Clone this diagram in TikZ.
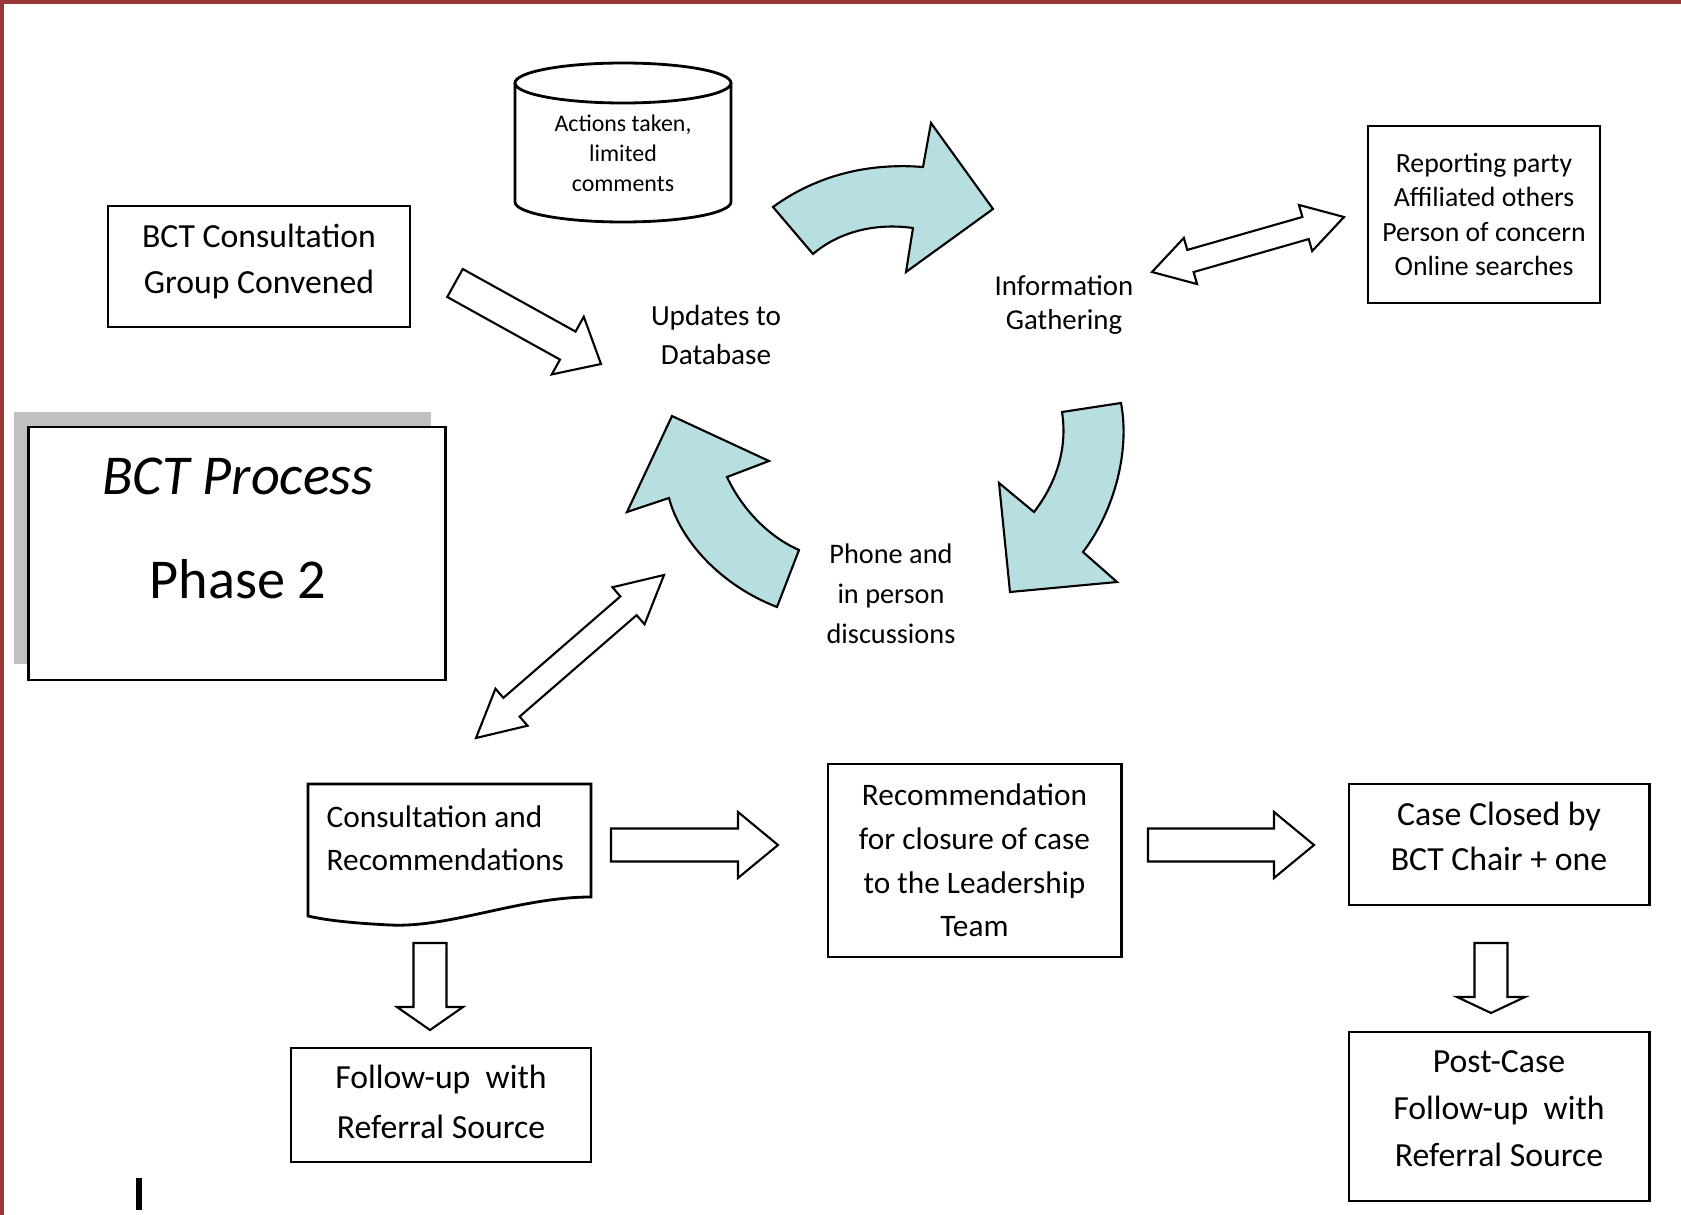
\documentclass[tikz,border=0pt]{standalone}
\usepackage{fontspec}
\setmainfont{Carlito}
\usetikzlibrary{calc}
\definecolor{frame}{RGB}{155,55,55}
\definecolor{cyclefill}{RGB}{183,222,225}
\definecolor{shadowgray}{RGB}{192,192,192}
\begin{document}
\begin{tikzpicture}[x=0.01cm,y=-0.01cm,
  box/.style={draw,line width=0.8pt,align=center,inner sep=0pt,fill=white},
  txt/.style={align=center,inner sep=0pt},
  cyc/.style={draw,line width=0.6pt,fill=cyclefill,line join=miter},
  arrshaft/.store in=\shaftw,arrhead/.store in=\headw,arrlen/.store in=\headl,
  arrshaft=16.5,arrhead=33,arrlen=40,
  blockarrow/.style={draw,line width=0.6pt,fill=white,line join=miter,
    to path={
      ($(\tikztostart)!\shaftw*0.01cm!90:(\tikztotarget)$)
      -- ($($(\tikztotarget)!\headl*0.01cm!(\tikztostart)$)!\shaftw*0.01cm!90:(\tikztotarget)$)
      -- ($($(\tikztotarget)!\headl*0.01cm!(\tikztostart)$)!\headw*0.01cm!90:(\tikztotarget)$)
      -- (\tikztotarget)
      -- ($($(\tikztotarget)!\headl*0.01cm!(\tikztostart)$)!\headw*0.01cm!-90:(\tikztotarget)$)
      -- ($($(\tikztotarget)!\headl*0.01cm!(\tikztostart)$)!\shaftw*0.01cm!-90:(\tikztotarget)$)
      -- ($(\tikztostart)!\shaftw*0.01cm!-90:(\tikztotarget)$)
      -- cycle}},
  dblarrow/.style={draw,line width=0.6pt,fill=white,line join=miter,
    to path={
      (\tikztostart)
      -- ($($(\tikztostart)!\headl*0.01cm!(\tikztotarget)$)!\headw*0.01cm!90:(\tikztotarget)$)
      -- ($($(\tikztostart)!\headl*0.01cm!(\tikztotarget)$)!\shaftw*0.01cm!90:(\tikztotarget)$)
      -- ($($(\tikztotarget)!\headl*0.01cm!(\tikztostart)$)!\shaftw*0.01cm!90:(\tikztotarget)$)
      -- ($($(\tikztotarget)!\headl*0.01cm!(\tikztostart)$)!\headw*0.01cm!90:(\tikztotarget)$)
      -- (\tikztotarget)
      -- ($($(\tikztotarget)!\headl*0.01cm!(\tikztostart)$)!\headw*0.01cm!-90:(\tikztotarget)$)
      -- ($($(\tikztotarget)!\headl*0.01cm!(\tikztostart)$)!\shaftw*0.01cm!-90:(\tikztotarget)$)
      -- ($($(\tikztostart)!\headl*0.01cm!(\tikztotarget)$)!\shaftw*0.01cm!-90:(\tikztotarget)$)
      -- ($($(\tikztostart)!\headl*0.01cm!(\tikztotarget)$)!\headw*0.01cm!-90:(\tikztotarget)$)
      -- cycle}}]
\useasboundingbox (0,0) rectangle (1681,1215);
% page frame
\fill[frame] (0,0) rectangle (1681,4);
\fill[frame] (0,0) rectangle (4,1215);

% top row
\node[box,minimum width=3.02cm,minimum height=1.21cm] (convened) at (259,266.5) {};
\node[txt,font=\fontsize{9.6}{13.1}\selectfont] (convenedtxt) at ([yshift=0.05cm]convened.center) {BCT Consultation\\Group Convened};
\draw[line width=0.8pt,fill=white] (515,83) -- (515,202) arc (180:0:108 and 20) -- (731,83);
\draw[line width=0.8pt] (623,83) ellipse (108 and 20);
\node[txt,font=\fontsize{6.8}{8.5}\selectfont] (db) at (623,153) {Actions taken,\\limited\\comments};
\node[box,minimum width=2.32cm,minimum height=1.77cm,font=\fontsize{7.9}{9.7}\selectfont] (parties) at (1484,214.5) {Reporting party\\Affiliated others\\Person of concern\\Online searches};

% cycle
\node[txt,font=\fontsize{8.3}{10.9}\selectfont] (updates) at (716,335) {Updates to\\Database};
\node[txt,font=\fontsize{8.2}{9.7}\selectfont] (gather) at (1064,305) {Information\\Gathering};
\node[txt,font=\fontsize{8.05}{11.4}\selectfont] (phone) at (891,594) {Phone and\\in person\\discussions};
\draw[cyc] (773,207) .. controls (810,180) and (860,162) .. (923,167) -- (931,123) -- (993,209)
  -- (906,272) -- (913,228) .. controls (870,222) and (835,235) .. (813,254) -- cycle;
\draw[cyc] (1121,403) -- (1062,412) .. controls (1068,450) and (1055,485) .. (1034,512) -- (999,483)
  -- (1010,592) -- (1117,582) -- (1083,552) .. controls (1115,510) and (1130,450) .. (1121,403) -- cycle;
\draw[cyc] (777,607) -- (799,550) .. controls (765,535) and (740,505) .. (727,477) -- (769,461)
  -- (672,416) -- (627,512) -- (669,498) .. controls (680,540) and (720,585) .. (777,607) -- cycle;

% phase title
\fill[shadowgray] (14,412) rectangle (431,664);
\node[box,minimum width=4.16cm,minimum height=2.53cm] (phase) at (237,553.5) {};
\node[txt,font=\fontsize{16}{29.6}\selectfont] (phasetitle) at (238,528) {\textit{BCT Process}\\Phase 2};

% bottom row
\draw[line width=0.8pt,fill=white] (308,784) -- (591,784) -- (591,897) .. controls (520,897) and (450,928) .. (390,925)
  .. controls (350,923) and (325,920) .. (308,916) -- cycle;
\node[anchor=west,align=left,inner sep=0pt,font=\fontsize{8.9}{12.2}\selectfont] (consult) at (326,838.5) {Consultation and\\Recommendations};
\node[box,minimum width=2.93cm,minimum height=1.93cm,font=\fontsize{8.9}{12.4}\selectfont] (recclose) at (974.5,860.5) {Recommendation\\for closure of case\\to the Leadership\\Team};
\node[box,minimum width=3.00cm,minimum height=1.21cm] (closed) at (1499,844.5) {};
\node[txt,font=\fontsize{9.6}{12.8}\selectfont] (closedtxt) at ([yshift=0.08cm]closed.center) {Case Closed by\\BCT Chair + one};
\node[box,minimum width=3.00cm,minimum height=1.69cm] (postcase) at (1499,1116.5) {};
\node[txt,font=\fontsize{9.6}{13.4}\selectfont] (postcasetxt) at ([yshift=0.08cm]postcase.center) {Post-Case\\Follow-up~~with\\Referral Source};
\node[box,minimum width=3.00cm,minimum height=1.14cm] (followup) at (441,1105) {};
\node[txt,font=\fontsize{9.6}{14}\selectfont] (followuptxt) at ([yshift=0.03cm]followup.center) {Follow-up~~with\\Referral Source};

% block arrows
\coordinate (a1s) at (455,283); \coordinate (a1e) at (601,364);
\draw[blockarrow,arrshaft=16,arrlen=38] (a1s) to (a1e);
\coordinate (a2s) at (611,845); \coordinate (a2e) at (778,845);
\draw[blockarrow] (a2s) to (a2e);
\coordinate (a3s) at (1148,845); \coordinate (a3e) at (1314,845);
\draw[blockarrow] (a3s) to (a3e);
\coordinate (a4s) at (430,943); \coordinate (a4e) at (430,1030);
\draw[blockarrow,arrlen=23] (a4s) to (a4e);
\coordinate (a5s) at (1491,943); \coordinate (a5e) at (1491,1013);
\draw[blockarrow,arrhead=34,arrlen=16] (a5s) to (a5e);
\coordinate (d1s) at (1152,272); \coordinate (d1e) at (1344,217);
\draw[dblarrow,arrshaft=11.5,arrhead=24,arrlen=40] (d1s) to (d1e);
\coordinate (d2s) at (476,738); \coordinate (d2e) at (664,575);
\draw[dblarrow,arrshaft=12.4,arrhead=24.5,arrlen=47] (d2s) to (d2e);

% stray cursor mark
\draw[line width=1.5pt] (139,1178) -- (139,1210);
\end{tikzpicture}
\end{document}
